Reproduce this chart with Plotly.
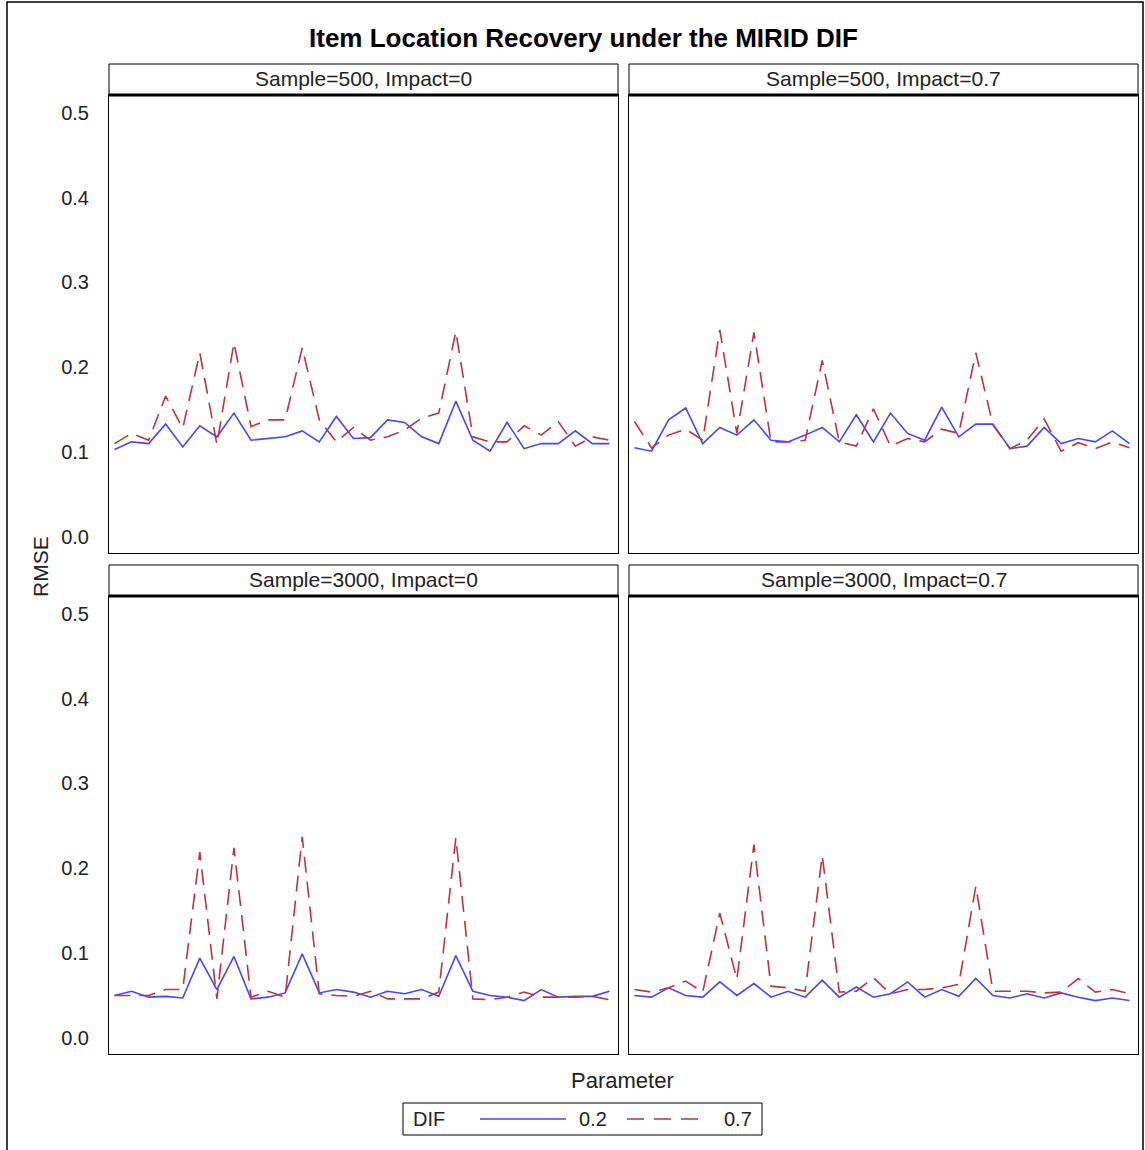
import plotly.graph_objects as go

# ---------------- data ----------------
params = list(range(1, 31))
panel_titles = ["Sample=500, Impact=0", "Sample=500, Impact=0.7",
                "Sample=3000, Impact=0", "Sample=3000, Impact=0.7"]
dif_levels = ["0.2", "0.7"]
y_ticks = [0.0, 0.1, 0.2, 0.3, 0.4, 0.5]
y_tick_labels = ["0.0", "0.1", "0.2", "0.3", "0.4", "0.5"]

s500_i0_d02 = [0.103, 0.112, 0.110, 0.133, 0.106, 0.131, 0.118, 0.146, 0.114, 0.116,
               0.118, 0.125, 0.112, 0.142, 0.116, 0.117, 0.138, 0.135, 0.118, 0.110,
               0.160, 0.114, 0.101, 0.135, 0.104, 0.110, 0.110, 0.125, 0.110, 0.110]
s500_i0_d07 = [0.110, 0.122, 0.114, 0.166, 0.128, 0.217, 0.109, 0.229, 0.130, 0.138,
               0.138, 0.223, 0.138, 0.112, 0.129, 0.114, 0.118, 0.126, 0.140, 0.146,
               0.242, 0.118, 0.112, 0.112, 0.131, 0.120, 0.136, 0.107, 0.118, 0.114]
s500_i07_d02 = [0.105, 0.101, 0.138, 0.152, 0.110, 0.129, 0.120, 0.138, 0.114, 0.112,
                0.120, 0.129, 0.112, 0.144, 0.112, 0.146, 0.122, 0.114, 0.153, 0.118,
                0.133, 0.133, 0.104, 0.107, 0.129, 0.110, 0.116, 0.112, 0.125, 0.110]
s500_i07_d07 = [0.136, 0.105, 0.120, 0.127, 0.114, 0.244, 0.122, 0.241, 0.112, 0.112,
                0.114, 0.208, 0.112, 0.107, 0.151, 0.107, 0.116, 0.112, 0.127, 0.122,
                0.217, 0.132, 0.104, 0.114, 0.139, 0.101, 0.111, 0.104, 0.112, 0.105]
s3000_i0_d02 = [0.050, 0.055, 0.048, 0.049, 0.047, 0.094, 0.057, 0.096, 0.046, 0.048,
                0.053, 0.099, 0.053, 0.057, 0.054, 0.048, 0.055, 0.052, 0.057, 0.049,
                0.097, 0.055, 0.050, 0.048, 0.044, 0.057, 0.048, 0.049, 0.049, 0.055]
s3000_i0_d07 = [0.050, 0.050, 0.050, 0.057, 0.057, 0.219, 0.046, 0.224, 0.048, 0.055,
                0.048, 0.237, 0.052, 0.050, 0.049, 0.055, 0.046, 0.046, 0.046, 0.054,
                0.236, 0.046, 0.045, 0.048, 0.054, 0.048, 0.048, 0.048, 0.049, 0.045]
s3000_i07_d02 = [0.050, 0.048, 0.059, 0.050, 0.048, 0.066, 0.050, 0.064, 0.048, 0.055,
                 0.048, 0.068, 0.048, 0.060, 0.048, 0.052, 0.066, 0.048, 0.057, 0.049,
                 0.070, 0.050, 0.047, 0.052, 0.047, 0.053, 0.048, 0.044, 0.047, 0.044]
s3000_i07_d07 = [0.057, 0.054, 0.059, 0.067, 0.054, 0.147, 0.069, 0.228, 0.061, 0.059,
                 0.055, 0.215, 0.054, 0.055, 0.071, 0.052, 0.057, 0.057, 0.059, 0.063,
                 0.179, 0.055, 0.055, 0.055, 0.053, 0.054, 0.070, 0.054, 0.057, 0.052]

panel_series = [
    (s500_i0_d02, s500_i0_d07),
    (s500_i07_d02, s500_i07_d07),
    (s3000_i0_d02, s3000_i0_d07),
    (s3000_i07_d02, s3000_i07_d07),
]

# ---------------- layout helpers ----------------
W, H = 1145, 1150
FONT = "Liberation Sans, Arial, sans-serif"
BLUE = "#4646ff"
RED = "#c0323f"
DASH = "16px,9px"


def px(x):
    return x / W


def py(y):
    return 1 - y / H


cols = [(109, 618), (629, 1138)]
rows = [((64, 95), (95, 553)), ((565, 596), (596, 1054))]

fig = go.Figure()
layout = dict(
    width=W, height=H, margin=dict(l=0, r=0, t=0, b=0),
    paper_bgcolor="white", plot_bgcolor="white", showlegend=False,
    font=dict(family=FONT, color="black"),
)
shapes = []
annotations = []

for i, (blue_vals, red_vals) in enumerate(panel_series):
    r, c = divmod(i, 2)
    (sy0, sy1), (py0, py1) = rows[r]
    x0, x1 = cols[c]
    n = i + 1
    xa = "x" if n == 1 else f"x{n}"
    ya = "y" if n == 1 else f"y{n}"
    fig.add_trace(go.Scatter(x=params, y=blue_vals, mode="lines", name=dif_levels[0],
                             line=dict(color=BLUE, width=1.6), xaxis=xa, yaxis=ya))
    fig.add_trace(go.Scatter(x=params, y=red_vals, mode="lines", name=dif_levels[1],
                             line=dict(color=RED, width=1.6, dash=DASH), xaxis=xa, yaxis=ya))
    xkey = "xaxis" if n == 1 else f"xaxis{n}"
    ykey = "yaxis" if n == 1 else f"yaxis{n}"
    layout[xkey] = dict(domain=[px(x0), px(x1)], range=[0.68, 30.5], anchor=ya,
                        showgrid=False, zeroline=False, showticklabels=False, ticks="",
                        showline=True, mirror=True, linecolor="black", linewidth=1)
    layout[ykey] = dict(domain=[py(py1), py(py0)], range=[-0.019, 0.521], anchor=xa,
                        showgrid=False, zeroline=False, ticks="",
                        tickvals=y_ticks, ticktext=y_tick_labels,
                        showticklabels=(c == 0), ticklabelstandoff=15,
                        tickfont=dict(size=20, family=FONT, color="#222"),
                        showline=True, mirror=True, linecolor="black", linewidth=1)
    # strip header
    shapes.append(dict(type="rect", xref="paper", yref="paper",
                       x0=px(x0), x1=px(x1), y0=py(sy1), y1=py(sy0),
                       line=dict(color="black", width=1), fillcolor="white"))
    shapes.append(dict(type="line", xref="paper", yref="paper",
                       x0=px(x0), x1=px(x1), y0=py(sy1), y1=py(sy1),
                       line=dict(color="black", width=3)))
    annotations.append(dict(text=panel_titles[i], xref="paper", yref="paper",
                            x=px((x0 + x1) / 2), y=py((sy0 + sy1) / 2 - 1),
                            xanchor="center", yanchor="middle", showarrow=False,
                            font=dict(size=21, family=FONT, color="#222")))

# outer frame
shapes.append(dict(type="rect", xref="paper", yref="paper",
                   x0=px(7), x1=px(1143), y0=-0.01, y1=py(2),
                   line=dict(color="black", width=1.5)))

# title and axis labels
annotations.append(dict(text="<b>Item Location Recovery under the MIRID DIF</b>",
                        xref="paper", yref="paper", x=px(583), y=py(38),
                        xanchor="center", yanchor="middle", showarrow=False,
                        font=dict(size=26, family=FONT, color="black")))
annotations.append(dict(text="RMSE", xref="paper", yref="paper", x=px(40), y=py(567),
                        xanchor="center", yanchor="middle", textangle=-90, showarrow=False,
                        font=dict(size=21, family=FONT, color="#222")))
annotations.append(dict(text="Parameter", xref="paper", yref="paper", x=px(622), y=py(1080),
                        xanchor="center", yanchor="middle", showarrow=False,
                        font=dict(size=22, family=FONT, color="#222")))

# legend (drawn manually)
shapes.append(dict(type="rect", xref="paper", yref="paper",
                   x0=px(403), x1=px(762), y0=py(1135), y1=py(1103),
                   line=dict(color="black", width=1), fillcolor="white"))
shapes.append(dict(type="line", xref="paper", yref="paper",
                   x0=px(480), x1=px(566), y0=py(1119), y1=py(1119),
                   line=dict(color=BLUE, width=1.6)))
shapes.append(dict(type="line", xref="paper", yref="paper",
                   x0=px(627), x1=px(706), y0=py(1119), y1=py(1119),
                   line=dict(color=RED, width=1.6, dash="17px,10px")))
annotations.append(dict(text="DIF", xref="paper", yref="paper", x=px(411), y=py(1119),
                        xanchor="left", yanchor="middle", showarrow=False,
                        font=dict(size=20, family=FONT, color="#222")))
annotations.append(dict(text=dif_levels[0], xref="paper", yref="paper", x=px(577), y=py(1119),
                        xanchor="left", yanchor="middle", showarrow=False,
                        font=dict(size=20, family=FONT, color="#222")))
annotations.append(dict(text=dif_levels[1], xref="paper", yref="paper", x=px(722), y=py(1119),
                        xanchor="left", yanchor="middle", showarrow=False,
                        font=dict(size=20, family=FONT, color="#222")))

layout["shapes"] = shapes
layout["annotations"] = annotations
fig.update_layout(**layout)
fig.write_html("out.html")
